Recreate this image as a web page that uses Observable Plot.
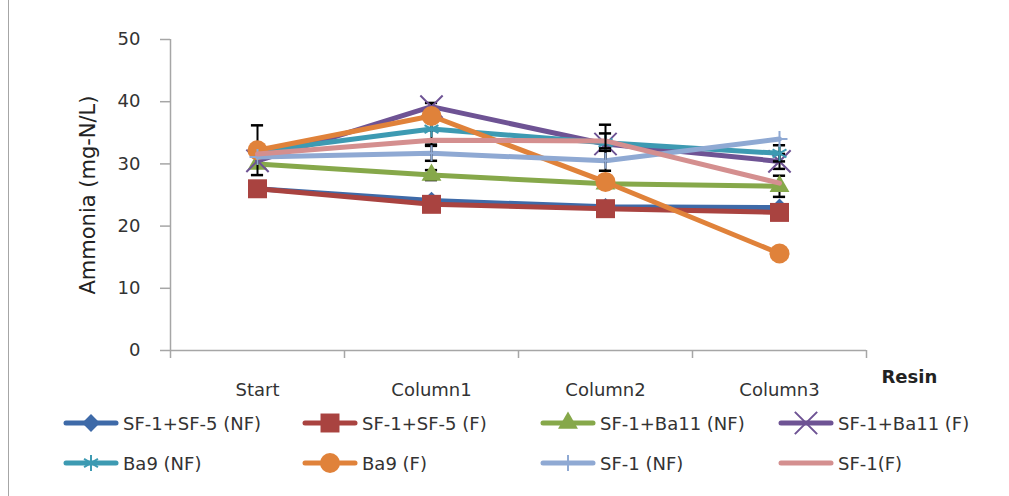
<!DOCTYPE html>
<html><head><meta charset="utf-8">
<script src="https://cdn.jsdelivr.net/npm/d3@7"></script>
<script src="https://cdn.jsdelivr.net/npm/@observablehq/plot@0.6"></script>
<style>
body{margin:0;background:#fff;}
#wrap{position:relative;width:1009px;height:496px;overflow:hidden;font-family:"DejaVu Sans",sans-serif;}
#border{position:absolute;left:8px;top:0;bottom:0;border-left:1.5px solid #a6a6a6;}
#legend{position:absolute;left:0;top:400px;width:1009px;height:96px;}
.item{position:absolute;display:flex;align-items:center;font-size:18px;color:#333;white-space:nowrap;}
.item svg{margin-right:4px;}
</style></head><body>
<div id="wrap"><div id="chart"></div><div id="legend"></div><div id="border"></div></div>
<script>
// ---- data ----
const categories = ["Start", "Column1", "Column2", "Column3"];
const seriesNames = ["SF-1+SF-5 (NF)", "SF-1+SF-5 (F)", "SF-1+Ba11 (NF)", "SF-1+Ba11 (F)", "Ba9 (NF)", "Ba9 (F)", "SF-1 (NF)", "SF-1(F)"];
const sf1sf5NF  = [26.0, 24.1, 23.1, 23.0];
const sf1sf5F   = [26.0, 23.5, 22.8, 22.2];
const sf1ba11NF = [30.0, 28.2, 26.8, 26.4];
const sf1ba11F  = [30.5, 39.2, 33.2, 30.4];
const ba9NF     = [32.0, 35.6, 33.4, 31.7];
const ba9F      = [32.2, 37.7, 27.1, 15.6];
const sf1NF     = [31.1, 31.7, 30.5, 34.0];
const sf1F      = [31.6, 33.8, 33.7, 26.9];
// error bar half-lengths (0 = not shown)
const errSf1sf5NF  = [0, 0, 0, 0];
const errSf1sf5F   = [0, 0, 0, 0];
const errSf1ba11NF = [0, 0.8, 0, 1.7];
const errSf1ba11F  = [0, 0.6, 0, 1.2];
const errBa9NF     = [0, 2.5, 2.9, 1.3];
const errBa9F      = [4.0, 0, 0, 0];
const errSf1NF     = [0, 1.2, 1.6, 0];
const errSf1F      = [0, 0, 1.2, 0];
const yTicks = [0, 10, 20, 30, 40, 50];
const yLabel = "Ammonia (mg-N/L)";
const xTitle = "Resin";

// ---- styles ----
const values = [sf1sf5NF, sf1sf5F, sf1ba11NF, sf1ba11F, ba9NF, ba9F, sf1NF, sf1F];
const errors = [errSf1sf5NF, errSf1sf5F, errSf1ba11NF, errSf1ba11F, errBa9NF, errBa9F, errSf1NF, errSf1F];
const colors = ["#3e6aa8", "#a94340", "#86a84a", "#6e5394", "#3d9ab2", "#e0823a", "#8fa9d3", "#d48f8f"];
const symbols = ["diamond2", "square", "triangle", "times", "asterisk", "circle", "plus", null];
const symbolR = [8, 10.7, 7.4, 10.2, 7.6, 10, 5.2, 0];
const d3Symbols = {diamond2: d3.symbolDiamond2, square: d3.symbolSquare, triangle: d3.symbolTriangle, times: d3.symbolTimes, asterisk: d3.symbolAsterisk, circle: d3.symbolCircle, plus: d3.symbolPlus};
const strokeSym = new Set(["times", "asterisk", "plus"]);
const FONT = "DejaVu Sans, sans-serif";
const TXT = "#333";
const AX = "#a6a6a6";

const rows = [];
seriesNames.forEach((name, s) => values[s].forEach((v, i) => rows.push({name, s, i, cat: categories[i], v, e: errors[s][i]})));

const marks = [];
// axes
const boundaries = d3.range(categories.length + 1).map(k => k - 0.5);
marks.push(Plot.axisX({ticks: boundaries, tickSize: 8, tickFormat: () => "", stroke: AX, strokeWidth: 1.5, label: null}));
marks.push(Plot.axisX({ticks: d3.range(categories.length), tickSize: 0, tickPadding: 33, tickFormat: k => categories[k], fill: TXT, fontSize: 18, label: null}));
marks.push(Plot.axisY({ticks: yTicks, tickSize: 10, tickPadding: 20, stroke: AX, strokeWidth: 1.5, fill: TXT, fontSize: 18, label: null}));
marks.push(Plot.ruleY([0], {stroke: AX, strokeWidth: 1.5}));
marks.push(Plot.ruleX([-0.5], {stroke: AX, strokeWidth: 1.5}));
marks.push(Plot.text([yLabel], {frameAnchor: "left", textAnchor: "middle", rotate: -90, dx: -82, fontSize: 21, fill: "#222"}));
marks.push(Plot.text([xTitle], {frameAnchor: "bottom-right", textAnchor: "start", dx: 15, dy: 32, fontSize: 18, fontWeight: "bold", fill: "#222"}));

seriesNames.forEach((name, s) => {
  const data = rows.filter(d => d.s === s);
  const eb = data.filter(d => d.e > 0);
  marks.push(Plot.line(data, {x: "i", y: "v", stroke: colors[s], strokeWidth: 5, strokeLinejoin: "round", strokeLinecap: "round"}));
  marks.push(Plot.ruleX(eb, {x: "i", y1: d => d.v - d.e, y2: d => d.v + d.e, stroke: "black", strokeWidth: 2}));
  marks.push(Plot.ruleY(eb, {y: d => d.v + d.e, x1: d => d.i - 0.035, x2: d => d.i + 0.035, stroke: "black", strokeWidth: 2.5}));
  marks.push(Plot.ruleY(eb, {y: d => d.v - d.e, x1: d => d.i - 0.035, x2: d => d.i + 0.035, stroke: "black", strokeWidth: 2.5}));
  if (symbols[s]) {
    const isStroke = strokeSym.has(symbols[s]);
    marks.push(Plot.dot(data, {x: "i", y: "v", symbol: () => symbols[s], r: symbolR[s],
      fill: isStroke ? "none" : colors[s], stroke: isStroke ? colors[s] : "none", strokeWidth: 2}));
  }
});

const chart = Plot.plot({
  width: 1009, height: 400,
  marginLeft: 170, marginRight: 143, marginTop: 39, marginBottom: 50,
  x: {type: "linear", domain: [-0.5, categories.length - 0.5]},
  y: {domain: [0, 50]},
  symbol: {type: "identity"},
  style: {fontFamily: FONT, fontSize: "18px", color: TXT, background: "transparent"},
  marks
});
document.getElementById("chart").appendChild(chart);

// ---- legend ----
const legendX = [63, 302, 540, 778];
const legendY = [23, 63];
const legend = d3.select("#legend");
seriesNames.forEach((name, s) => {
  const col = s % 4, row = Math.floor(s / 4);
  const item = legend.append("div").attr("class", "item")
    .style("left", legendX[col] + "px").style("top", (legendY[row] - 14) + "px").style("height", "28px");
  const svg = item.append("svg").attr("width", 56).attr("height", 28);
  svg.append("line").attr("x1", 3).attr("x2", 53).attr("y1", 14).attr("y2", 14)
    .attr("stroke", colors[s]).attr("stroke-width", 5).attr("stroke-linecap", "round");
  if (symbols[s]) {
    const isStroke = strokeSym.has(symbols[s]);
    svg.append("path").attr("transform", "translate(28,14)")
      .attr("d", d3.symbol(d3Symbols[symbols[s]], Math.PI * symbolR[s] * symbolR[s])())
      .attr("fill", isStroke ? "none" : colors[s]).attr("stroke", isStroke ? colors[s] : "none").attr("stroke-width", 2);
  }
  item.append("span").text(name);
});
</script>
</body></html>
